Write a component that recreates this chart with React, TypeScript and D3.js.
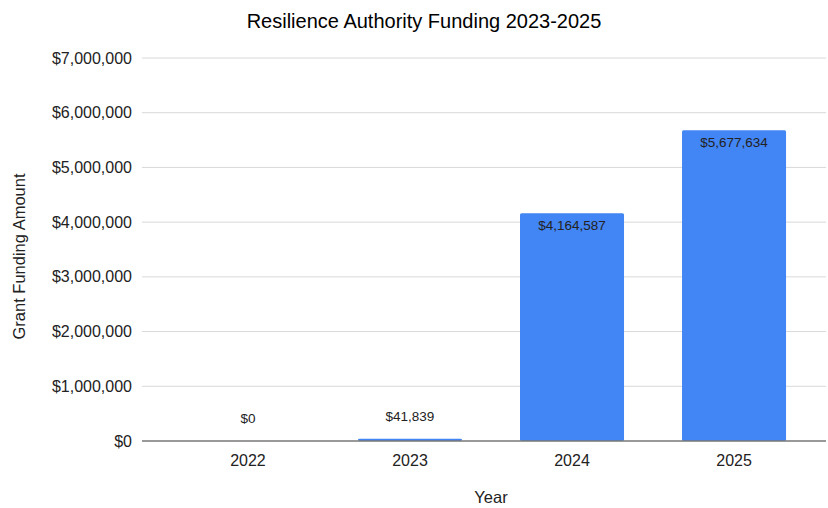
import { useEffect, useRef } from 'react';
import * as d3 from 'd3';

const years = ['2022', '2023', '2024', '2025'];
const funding = [0, 41839, 4164587, 5677634];
const yTicks = [0, 1000000, 2000000, 3000000, 4000000, 5000000, 6000000, 7000000];

const width = 828;
const height = 508;
const margin = { top: 58, right: 2, bottom: 67, left: 142 };

const fmt = (v: number) => '$' + d3.format(',')(v);

export default function App() {
  const ref = useRef<SVGSVGElement>(null);

  useEffect(() => {
    const svg = d3.select(ref.current);
    svg.selectAll('*').remove();

    const plotRight = width - margin.right;
    const plotBottom = height - margin.bottom;

    const xScale = d3
      .scaleBand()
      .domain(years)
      .range([margin.left, 840])
      .paddingInner(0.358)
      .paddingOuter(0.333);

    const yScale = d3.scaleLinear().domain([0, 7000000]).range([plotBottom, margin.top]);

    svg
      .append('text')
      .attr('x', 424)
      .attr('y', 28)
      .attr('text-anchor', 'middle')
      .attr('font-size', '20px')
      .attr('fill', '#000')
      .text('Resilience Authority Funding 2023-2025');

    // grid + y labels
    const yAxis = svg.append('g');
    yAxis
      .selectAll('line')
      .data(yTicks.filter((t) => t > 0))
      .enter()
      .append('line')
      .attr('x1', margin.left)
      .attr('x2', plotRight)
      .attr('y1', (d) => yScale(d))
      .attr('y2', (d) => yScale(d))
      .attr('stroke', '#d9d9d9')
      .attr('stroke-width', 1);
    yAxis
      .selectAll('text')
      .data(yTicks)
      .enter()
      .append('text')
      .attr('x', 132)
      .attr('y', (d) => yScale(d))
      .attr('dy', '0.35em')
      .attr('text-anchor', 'end')
      .attr('font-size', '16px')
      .attr('fill', '#222')
      .text((d) => fmt(d));

    svg
      .append('text')
      .attr('transform', `translate(25, ${(175 + 338) / 2}) rotate(-90)`)
      .attr('text-anchor', 'middle')
      .attr('font-size', '16.5px')
      .attr('fill', '#222')
      .text('Grant Funding Amount');

    // bars
    svg
      .append('g')
      .selectAll('rect')
      .data(funding)
      .enter()
      .append('rect')
      .attr('x', (_, i) => xScale(years[i])!)
      .attr('width', xScale.bandwidth())
      .attr('y', (d) => yScale(d))
      .attr('height', (d) => plotBottom - yScale(d))
      .attr('rx', 1.5)
      .attr('fill', '#4285f4');

    // bar labels
    svg
      .append('g')
      .selectAll('text')
      .data(funding)
      .enter()
      .append('text')
      .attr('x', (_, i) => xScale(years[i])! + xScale.bandwidth() / 2)
      .attr('y', (d) => (plotBottom - yScale(d) > 30 ? yScale(d) + 17 : yScale(d) - 18))
      .attr('text-anchor', 'middle')
      .attr('font-size', '13.5px')
      .attr('fill', '#222')
      .text((d) => fmt(d));

    // baseline
    svg
      .append('line')
      .attr('x1', margin.left)
      .attr('x2', plotRight)
      .attr('y1', yScale(0))
      .attr('y2', yScale(0))
      .attr('stroke', '#777')
      .attr('stroke-width', 1.5);

    // x labels
    svg
      .append('g')
      .selectAll('text')
      .data(years)
      .enter()
      .append('text')
      .attr('x', (d) => xScale(d)! + xScale.bandwidth() / 2)
      .attr('y', plotBottom + 25)
      .attr('text-anchor', 'middle')
      .attr('font-size', '16px')
      .attr('fill', '#222')
      .text((d) => d);

    svg
      .append('text')
      .attr('x', 491)
      .attr('y', 503)
      .attr('text-anchor', 'middle')
      .attr('font-size', '16.5px')
      .attr('fill', '#222')
      .text('Year');
  }, []);

  return (
    <svg
      ref={ref}
      width={width}
      height={height}
      style={{ position: 'absolute', left: 0, top: 0, fontFamily: '"Liberation Sans", Arial, sans-serif' }}
    />
  );
}
